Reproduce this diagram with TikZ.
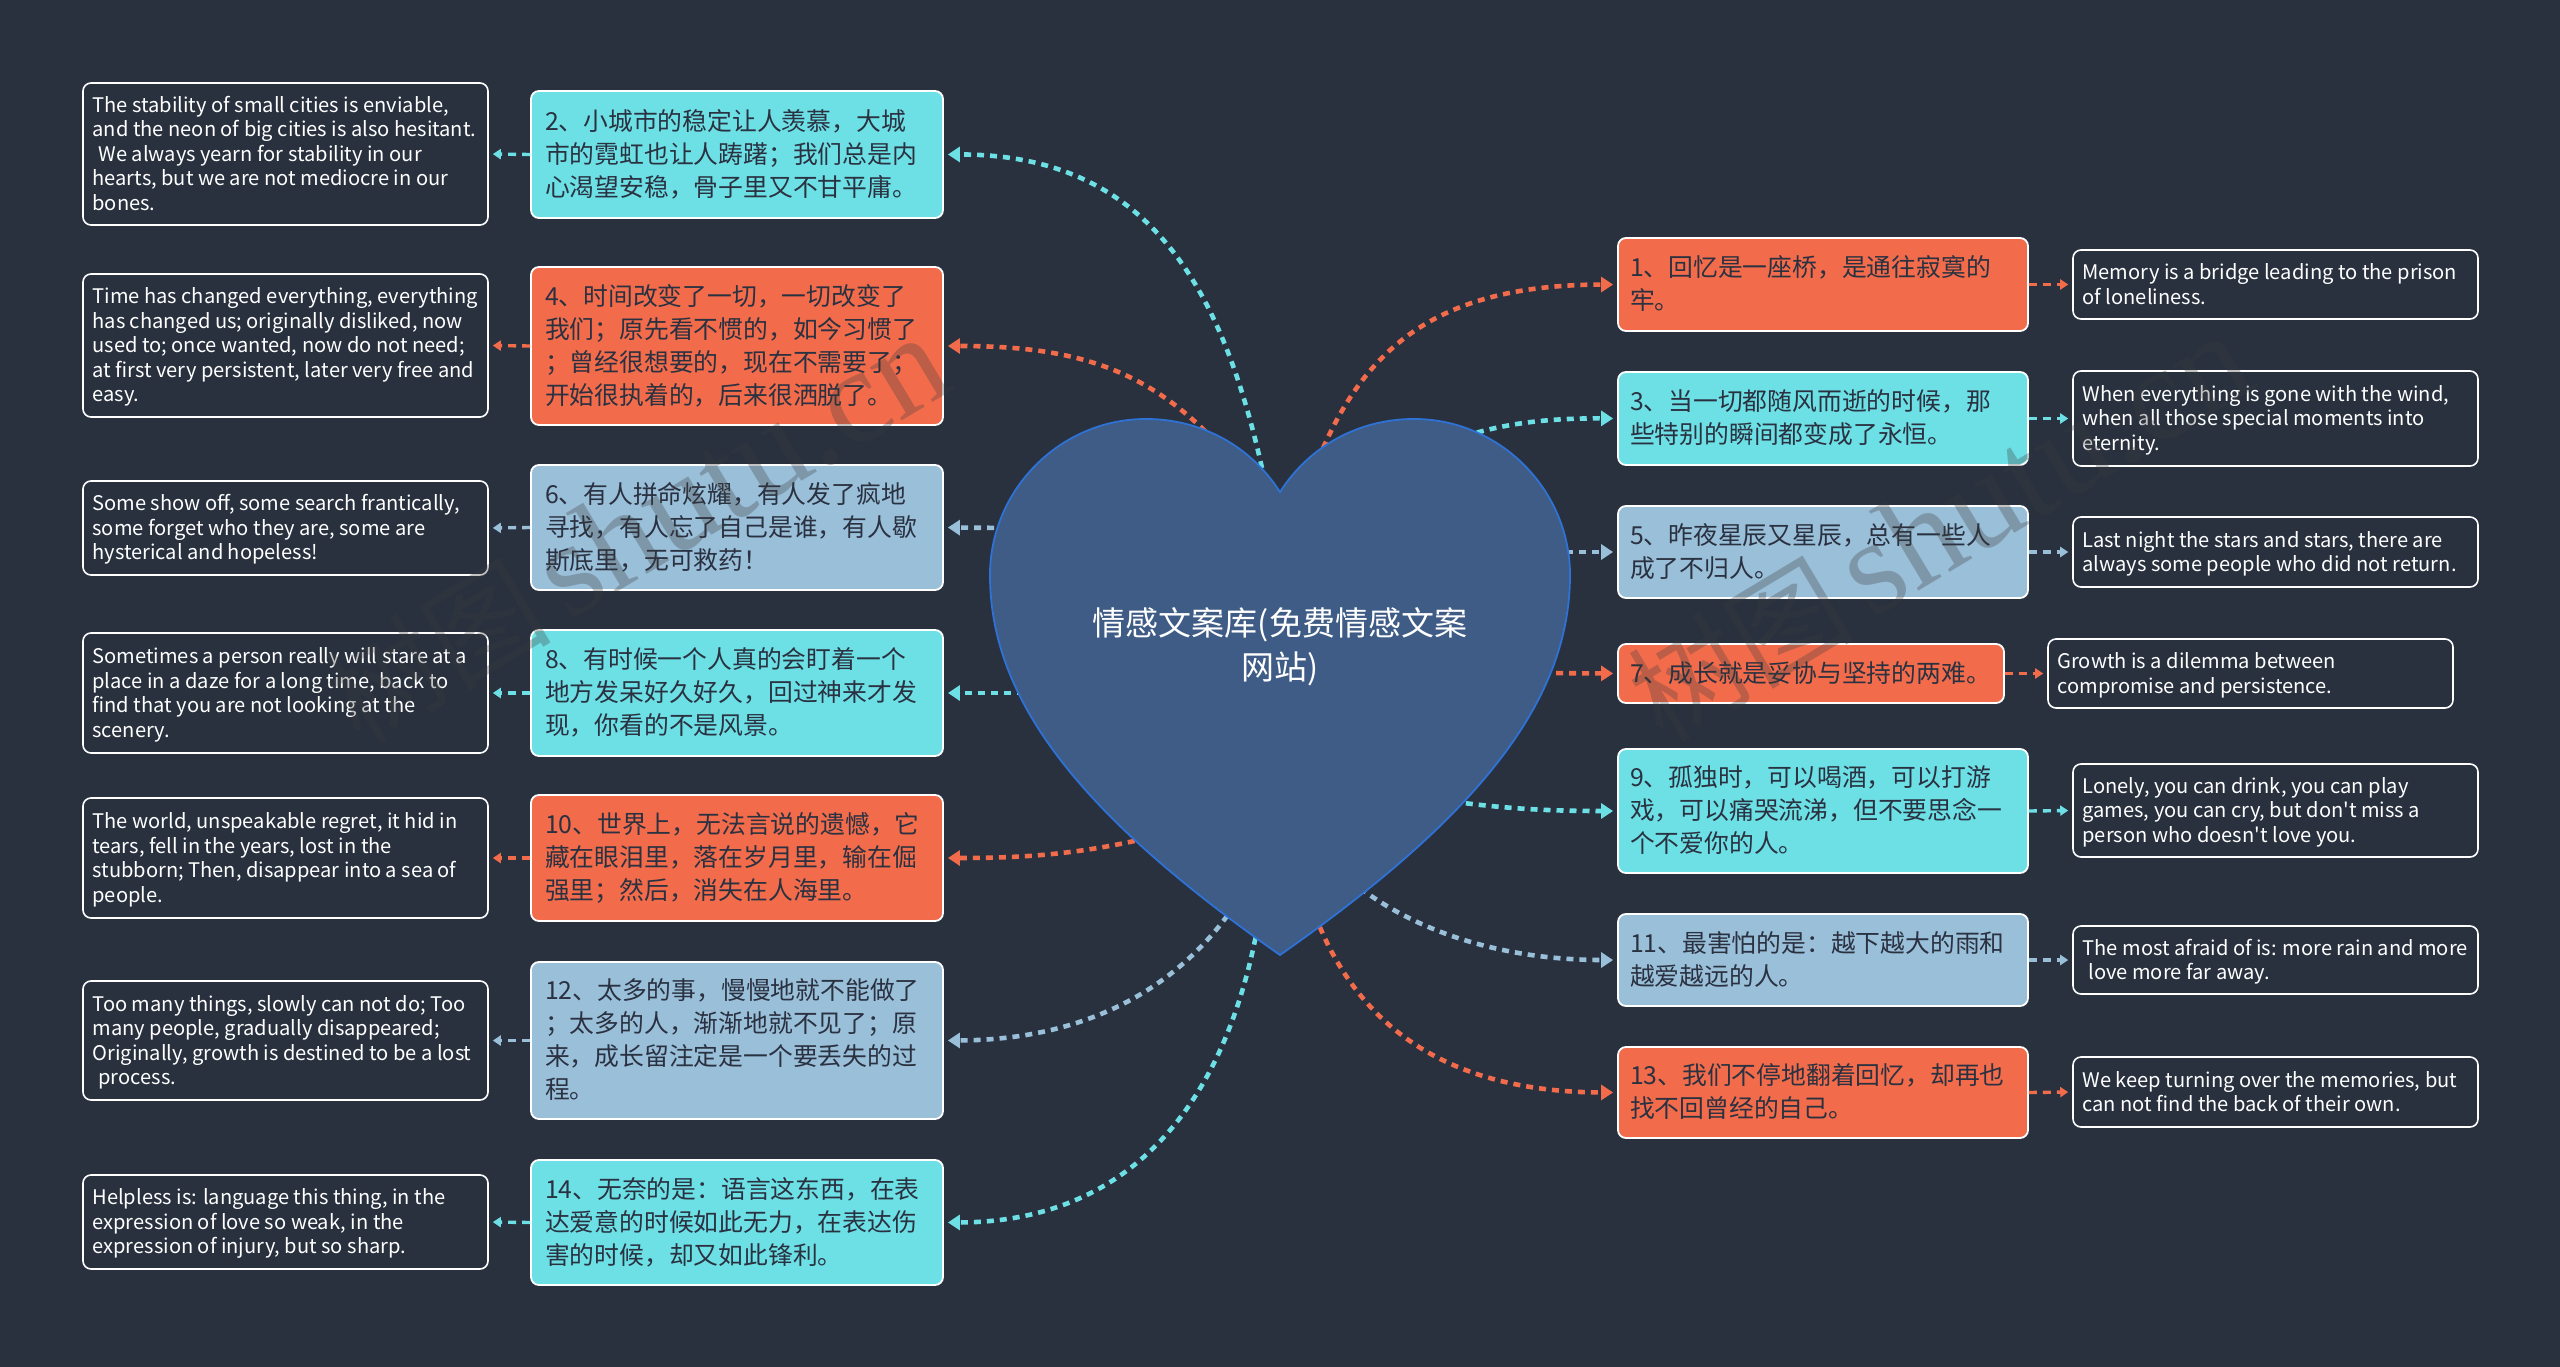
\documentclass[tikz,border=0pt]{standalone}
\usepackage{fontspec}
\setmainfont{Noto Sans CJK SC}
\newfontfamily\dfont{Noto Sans CJK SC}
\newfontfamily\wmfont{Liberation Serif}
\newfontfamily\wmcjk{Noto Sans CJK SC}
\usetikzlibrary{arrows.meta}
\definecolor{bgc}{HTML}{29313F}
\definecolor{cyanc}{HTML}{6DE0E5}
\definecolor{orgc}{HTML}{F26C4C}
\definecolor{bluec}{HTML}{9ABFD9}
\definecolor{inkc}{HTML}{2A3140}
\definecolor{heartc}{HTML}{3E5C85}
\definecolor{heartl}{HTML}{2F72D6}
\definecolor{wmc}{HTML}{3C3C3C}
\newcommand{\tdrop}{4pt}
\tikzset{
  mainbox/.style={draw=white,line width=1.8pt,rounded corners=8pt,inner sep=0pt,text=inkc,
     font=\fontsize{24.8}{33}\selectfont\def\tdrop{4pt}},
  detailbox/.style={draw=white,line width=1.6pt,rounded corners=8pt,inner sep=0pt,text=white,fill=bgc,
     font=\dfont\fontsize{20.1}{24.5}\selectfont\def\tdrop{5pt}},
  maincon/.style={line width=4.6pt,dash pattern=on 7pt off 6pt,shorten >=4pt,
     -{Triangle[length=12pt,width=15pt,sep=0pt]}},
  detcon/.style={line width=3.4pt,dash pattern=on 8pt off 6pt,shorten >=4pt,
     -{Triangle[length=8pt,width=10pt,sep=0pt]}},
  watermark/.style={rotate=31,anchor=base west,text=wmc,opacity=0.3,inner sep=0pt}
}
\newcommand{\wmtext}{{\wmcjk\fontsize{113}{113}\selectfont 树图}\hspace{17pt}{\wmfont\fontsize{135}{135}\selectfont shutu.cn}}
\newcommand{\boxnode}[8]{%
  \pgfmathsetmacro\bw{#5-#3}\pgfmathsetmacro\bh{#6-#4}%
  \pgfmathsetmacro\bcx{(#3+#5)/2}\pgfmathsetmacro\bcy{(#4+#6)/2}%
  \pgfmathsetmacro\btw{#5-#3-2*#7}%
  \node[#1,minimum width=\bw pt,minimum height=\bh pt] (#2) at (\bcx,\bcy)
    {\raisebox{0pt}[\dimexpr\height+\tdrop\relax][\depth]{\makebox[\btw pt][l]{\begin{tabular}{@{}l@{}}#8\end{tabular}}}};}
\begin{document}
\begin{tikzpicture}[x=1pt,y=-1pt]
\useasboundingbox (0,0) rectangle (2560,1367);
\fill[bgc] (0,0) rectangle (2560,1367);

% main boxes, left
\boxnode{mainbox,fill=cyanc}{m2}{531}{91}{943}{218}{14}{2、小城市的稳定让人羡慕，大城\\市的霓虹也让人踌躇；我们总是内\\心渴望安稳，骨子里又不甘平庸。}
\boxnode{mainbox,fill=orgc}{m4}{531}{267}{943}{425}{14}{4、时间改变了一切，一切改变了\\我们；原先看不惯的，如今习惯了\\；曾经很想要的，现在不需要了；\\开始很执着的，后来很洒脱了。}
\boxnode{mainbox,fill=bluec}{m6}{531}{465}{943}{590}{14}{6、有人拼命炫耀，有人发了疯地\\寻找，有人忘了自己是谁，有人歇\\斯底里，无可救药！}
\boxnode{mainbox,fill=cyanc}{m8}{531}{630}{943}{756}{14}{8、有时候一个人真的会盯着一个\\地方发呆好久好久，回过神来才发\\现，你看的不是风景。}
\boxnode{mainbox,fill=orgc}{m10}{531}{795}{943}{921}{14}{10、世界上，无法言说的遗憾，它\\藏在眼泪里，落在岁月里，输在倔\\强里；然后，消失在人海里。}
\boxnode{mainbox,fill=bluec}{m12}{531}{962}{943}{1119}{14}{12、太多的事，慢慢地就不能做了\\；太多的人，渐渐地就不见了；原\\来，成长留注定是一个要丢失的过\\程。}
\boxnode{mainbox,fill=cyanc}{m14}{531}{1160}{943}{1285}{14}{14、无奈的是：语言这东西，在表\\达爱意的时候如此无力，在表达伤\\害的时候，却又如此锋利。}

% main boxes, right
\boxnode{mainbox,fill=orgc}{m1}{1618}{238}{2028}{331}{12}{1、回忆是一座桥，是通往寂寞的\\牢。}
\boxnode{mainbox,fill=cyanc}{m3}{1618}{372}{2028}{465}{12}{3、当一切都随风而逝的时候，那\\些特别的瞬间都变成了永恒。}
\boxnode{mainbox,fill=bluec}{m5}{1618}{506}{2028}{598}{12}{5、昨夜星辰又星辰，总有一些人\\成了不归人。}
\boxnode{mainbox,fill=orgc}{m7}{1618}{644}{2004}{703}{12}{7、成长就是妥协与坚持的两难。}
\boxnode{mainbox,fill=cyanc}{m9}{1618}{749}{2028}{873}{12}{9、孤独时，可以喝酒，可以打游\\戏，可以痛哭流涕，但不要思念一\\个不爱你的人。}
\boxnode{mainbox,fill=bluec}{m11}{1618}{914}{2028}{1006}{12}{11、最害怕的是：越下越大的雨和\\越爱越远的人。}
\boxnode{mainbox,fill=orgc}{m13}{1618}{1047}{2028}{1138}{12}{13、我们不停地翻着回忆，却再也\\找不回曾经的自己。}

% detail boxes, left
\boxnode{detailbox}{d2}{83}{83}{488}{225}{9.5}{The stability of small cities is enviable,\\and the neon of big cities is also hesitant.\\\hspace*{6pt}We always yearn for stability in our\\hearts, but we are not mediocre in our\\bones.}
\boxnode{detailbox}{d4}{83}{274}{488}{417}{9.5}{Time has changed everything, everything\\has changed us; originally disliked, now\\used to; once wanted, now do not need;\\at first very persistent, later very free and\\easy.}
\boxnode{detailbox}{d6}{83}{481}{488}{575}{9.5}{Some show off, some search frantically,\\some forget who they are, some are\\hysterical and hopeless!}
\boxnode{detailbox}{d8}{83}{633}{488}{753}{9.5}{Sometimes a person really will stare at a\\place in a daze for a long time, back to\\find that you are not looking at the\\scenery.}
\boxnode{detailbox}{d10}{83}{798}{488}{918}{9.5}{The world, unspeakable regret, it hid in\\tears, fell in the years, lost in the\\stubborn; Then, disappear into a sea of\\people.}
\boxnode{detailbox}{d12}{83}{981}{488}{1100}{9.5}{Too many things, slowly can not do; Too\\many people, gradually disappeared;\\Originally, growth is destined to be a lost\\\hspace*{6pt}process.}
\boxnode{detailbox}{d14}{83}{1175}{488}{1269}{9.5}{Helpless is: language this thing, in the\\expression of love so weak, in the\\expression of injury, but so sharp.}

% detail boxes, right
\boxnode{detailbox}{d1}{2073}{250}{2478}{319}{9.5}{Memory is a bridge leading to the prison\\of loneliness.}
\boxnode{detailbox}{d3}{2073}{371}{2478}{466}{9.5}{When everything is gone with the wind,\\when all those special moments into\\eternity.}
\boxnode{detailbox}{d5}{2073}{517}{2478}{587}{9.5}{Last night the stars and stars, there are\\always some people who did not return.}
\boxnode{detailbox}{d7}{2048}{639}{2453}{708}{9.5}{Growth is a dilemma between\\compromise and persistence.}
\boxnode{detailbox}{d9}{2073}{764}{2478}{857}{9.5}{Lonely, you can drink, you can play\\games, you can cry, but don't miss a\\person who doesn't love you.}
\boxnode{detailbox}{d11}{2073}{926}{2478}{994}{9.5}{The most afraid of is: more rain and more\\\hspace*{6pt}love more far away.}
\boxnode{detailbox}{d13}{2073}{1057}{2478}{1127}{9.5}{We keep turning over the memories, but\\can not find the back of their own.}

% connector starts, under the heart
\coordinate (s1) at (1318,460);
\coordinate (s2) at (1262,468);
\coordinate (s3) at (1440,445);
\coordinate (s4) at (1240,470);
\coordinate (s5) at (1540,552);
\coordinate (s6) at (1020,528);
\coordinate (s7) at (1530,673);
\coordinate (s8) at (1050,693);
\coordinate (s9) at (1440,800);
\coordinate (s10) at (1160,835);
\coordinate (s11) at (1350,880);
\coordinate (s12) at (1235,905);
\coordinate (s13) at (1315,915);
\coordinate (s14) at (1258,925);

% main connectors
\draw[maincon,orgc] (s1) .. controls (1365,345) and (1440,285) .. (m1.west);
\draw[maincon,cyanc] (s2) .. controls (1222,290) and (1150,154) .. (m2.east);
\draw[maincon,cyanc] (s3) .. controls (1490,425) and (1540,418) .. (m3.west);
\draw[maincon,orgc] (s4) .. controls (1160,370) and (1080,346) .. (m4.east);
\draw[maincon,bluec] (s5) -- (m5.west);
\draw[maincon,bluec] (s6) -- (m6.east);
\draw[maincon,orgc] (s7) -- (m7.west);
\draw[maincon,cyanc] (s8) -- (m8.east);
\draw[maincon,cyanc] (s9) .. controls (1500,808) and (1540,811) .. (m9.west);
\draw[maincon,orgc] (s10) .. controls (1080,855) and (1020,858) .. (m10.east);
\draw[maincon,bluec] (s11) .. controls (1410,930) and (1500,960) .. (m11.west);
\draw[maincon,bluec] (s12) .. controls (1170,1000) and (1070,1040) .. (m12.east);
\draw[maincon,orgc] (s13) .. controls (1355,1020) and (1440,1092) .. (m13.west);
\draw[maincon,cyanc] (s14) .. controls (1220,1130) and (1110,1222) .. (m14.east);

% detail connectors
\draw[detcon,orgc] (m1.east) -- (d1.west);
\draw[detcon,cyanc] (m2.west) -- (d2.east);
\draw[detcon,cyanc] (m3.east) -- (d3.west);
\draw[detcon,orgc] (m4.west) -- (d4.east);
\draw[detcon,bluec] (m5.east) -- (d5.west);
\draw[detcon,bluec] (m6.west) -- (d6.east);
\draw[detcon,orgc] (m7.east) -- (d7.west);
\draw[detcon,cyanc] (m8.west) -- (d8.east);
\draw[detcon,cyanc] (m9.east) -- (d9.west);
\draw[detcon,orgc] (m10.west) -- (d10.east);
\draw[detcon,bluec] (m11.east) -- (d11.west);
\draw[detcon,bluec] (m12.west) -- (d12.east);
\draw[detcon,orgc] (m13.east) -- (d13.west);
\draw[detcon,cyanc] (m14.west) -- (d14.east);

% heart
\draw[fill=heartc,draw=heartl,line width=1.8pt,line join=miter]
  (1280,492) .. controls (1310,445) and (1360,419) .. (1414,419)
  .. controls (1500,419) and (1570,490) .. (1570,575)
  .. controls (1570,700) and (1480,815) .. (1280,955)
  .. controls (1080,815) and (990,700) .. (990,575)
  .. controls (990,490) and (1060,419) .. (1146,419)
  .. controls (1200,419) and (1250,445) .. (1280,492) -- cycle;
\node[text=white,align=center,inner sep=0pt,font=\fontsize{33}{44}\selectfont] (root) at (1280,647)
  {情感文案库(免费情感文案\\网站)};

% watermarks
\node[watermark] (w1) at (360,747) {\wmtext};
\node[watermark] (w2) at (1663,745) {\wmtext};
\end{tikzpicture}
\end{document}
